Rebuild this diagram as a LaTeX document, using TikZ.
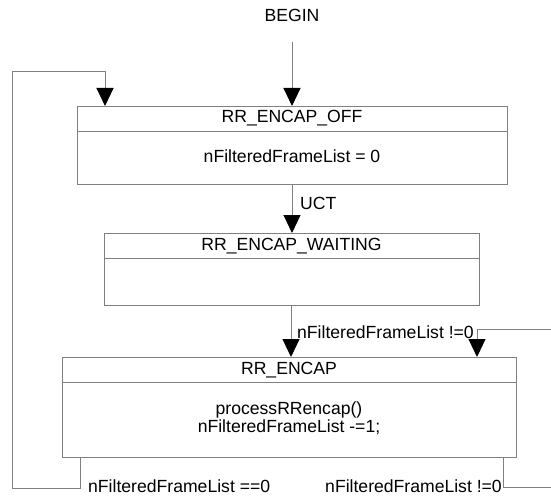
\documentclass[tikz,border=0pt]{standalone}
\usepackage{fontspec}
\setmainfont{Liberation Sans}
\usetikzlibrary{arrows.meta,calc}
\begin{document}
\begin{tikzpicture}[x=1pt,y=-1pt,
  every node/.style={font=\fontsize{17.6}{18.5}\selectfont, inner sep=0pt, text height=12.5pt, text depth=2.5pt},
  statebox/.style={draw=black!50, line width=1pt, anchor=north west, fill=none},
  conn/.style={draw=black!50, line width=1pt},
  arr/.style={conn, -{Triangle[width=17pt,length=18pt,fill=black,color=black]}},
  divline/.style={draw=black!50, line width=1pt}]
\useasboundingbox (0,0) rectangle (551,500);
% boxes
\node[statebox, minimum width=430pt, minimum height=78pt] (off) at (77,106) {};
\node[statebox, minimum width=375pt, minimum height=72pt] (wait) at (104,233) {};
\node[statebox, minimum width=454pt, minimum height=100pt] (encap) at (62,357) {};
% dividers
\draw[divline] ($(off.north west)+(0,25)$) -- ($(off.north east)+(0,25)$);
\draw[divline] ($(wait.north west)+(0,25)$) -- ($(wait.north east)+(0,25)$);
\draw[divline] ($(encap.north west)+(0,25)$) -- ($(encap.north east)+(0,25)$);
% texts in boxes
\node (offname) at (292,118) {RR\_ENCAP\_OFF};
\node (offact) at (292,157) {nFilteredFrameList = 0};
\node (waitname) at (291.5,245) {RR\_ENCAP\_WAITING};
\node (encapname) at (289,369) {RR\_ENCAP};
\node (encapact1) at (289,409) {processRRencap()};
\node (encapact2) at (289,427.5) {nFilteredFrameList -=1;};
% begin
\node (begin) at (292,17) {BEGIN};
\coordinate (bstart) at (292,42);
\draw[arr] (bstart) -- (bstart |- off.north);
% UCT
\draw[arr] (off.south -| bstart) -- (bstart |- wait.north);
\node[anchor=west] (uct) at (300,204) {UCT};
% wait -> encap
\coordinate (wbot) at (291,305);
\draw[arr] (wbot) -- (wbot |- encap.north);
\node[anchor=west] (lbl1) at (297,333) {nFilteredFrameList !=0};
% right incoming loop
\coordinate (rin) at (551,329);
\coordinate (rdown) at (477,329);
\draw[arr] (rin) -- (rdown) -- (rdown |- encap.north);
% left loop back to off
\coordinate (lexit) at (80,457);
\coordinate (lbot) at (80,488);
\coordinate (lcorner) at (12,488);
\coordinate (ltop) at (12,72);
\coordinate (lover) at (105,72);
\draw[arr] (lexit) -- (lbot) -- (lcorner) -- (ltop) -- (lover) -- (lover |- off.north);
\node[anchor=west] (lbl2) at (88,487) {nFilteredFrameList ==0};
% right exit
\coordinate (rexit) at (503,457);
\coordinate (rbot) at (503,487);
\coordinate (rout) at (551,487);
\draw[conn] (rexit) -- (rbot) -- (rout);
\node[anchor=east] (lbl3) at (502,487) {nFilteredFrameList !=0};
\end{tikzpicture}
\end{document}
